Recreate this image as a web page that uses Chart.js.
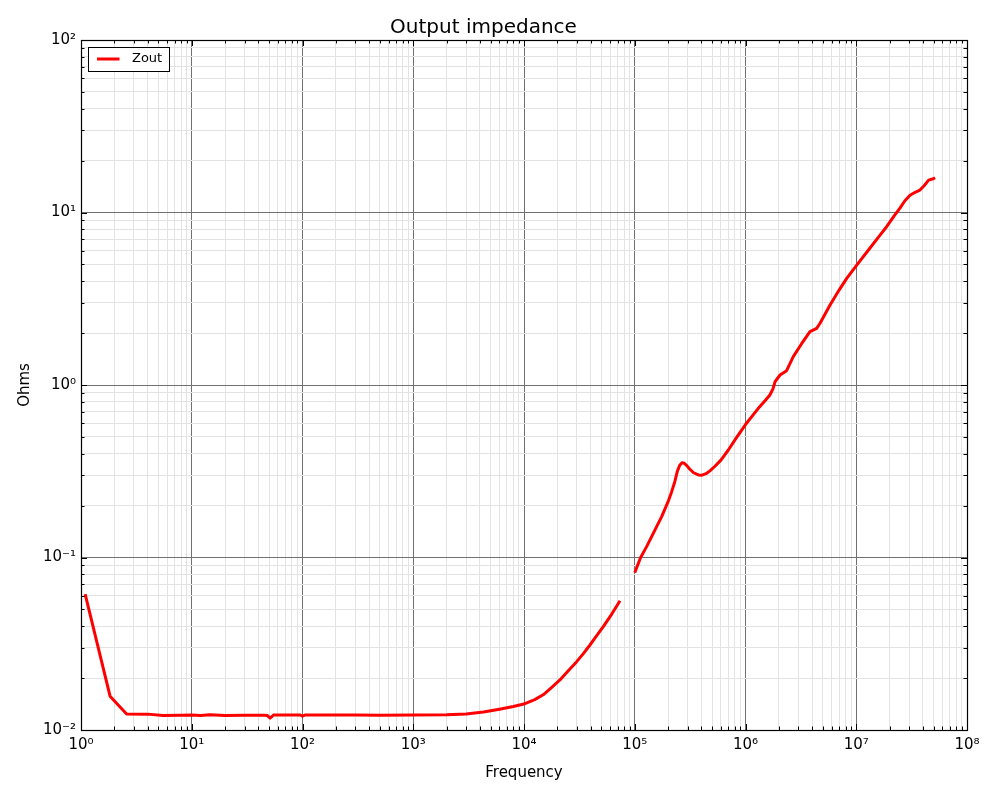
<!DOCTYPE html>
<html>
<head>
<meta charset="utf-8">
<script src="https://cdn.jsdelivr.net/npm/chart.js@4/dist/chart.umd.min.js"></script>
<style>
html,body{margin:0;padding:0;background:#fff;}
#wrap{width:1000px;height:800px;}
</style>
</head>
<body>
<div id="wrap"><canvas id="c" width="1000" height="800"></canvas></div>
<script>
const seriesLabel = "Zout";
const frequency = [1.09, 1.83, 2.58, 4.0, 5.5, 8, 10, 12, 14.5, 20, 30, 45, 48, 51, 55, 70, 95, 100, 105, 150, 300, 500, 1000, 2000, 3000, 4300, 6000, 8000, 10200, 12500, 14900, 17500, 21100, 25000, 29900, 34500, 39400, 45000, 52000, 62000, 73600, 87000, 100000, 113000, 128000, 152000, 175000, 200000, 215000, 230000, 242000, 255000, 267000, 280000, 295000, 313000, 340000, 375000, 405000, 440000, 480000, 530000, 600000, 700000, 820000, 1.0e6, 1.3e6, 1.5e6, 1.66e6, 1.77e6, 1.85e6, 2.05e6, 2.35e6, 2.7e6, 3.2e6, 3.82e6, 4.39e6, 4.71e6, 5.8e6, 7.0e6, 8.2e6, 1.01e7, 1.3e7, 1.6e7, 1.88e7, 2.2e7, 2.48e7, 2.75e7, 3.06e7, 3.4e7, 3.76e7, 4.1e7, 4.5e7, 4.97e7, 5.15e7];
const zout = [0.0614, 0.0157, 0.01238, 0.01236, 0.01215, 0.01218, 0.01222, 0.01215, 0.01225, 0.01215, 0.01218, 0.01218, 0.01215, 0.01172, 0.01222, 0.0122, 0.01222, 0.01205, 0.0122, 0.0122, 0.0122, 0.01218, 0.0122, 0.01225, 0.01238, 0.0127, 0.0132, 0.0137, 0.0142, 0.0150, 0.0160, 0.0175, 0.0195, 0.0220, 0.0249, 0.0278, 0.0311, 0.0350, 0.0397, 0.047, 0.0562, null, 0.0817, 0.100, 0.1156, 0.144, 0.1725, 0.2107, 0.240, 0.275, 0.315, 0.343, 0.354, 0.352, 0.341, 0.326, 0.310, 0.301, 0.300, 0.306, 0.319, 0.338, 0.367, 0.42, 0.49, 0.59, 0.73, 0.81, 0.875, 0.95, 1.045, 1.143, 1.21, 1.46, 1.73, 2.04, 2.13, 2.28, 2.91, 3.55, 4.15, 4.96, 6.1, 7.25, 8.27, 9.55, 10.6, 11.7, 12.6, 13.1, 13.5, 14.3, 15.4, 15.7, 15.9];
const xTickValues = [];
for (let e = 0; e < 8; e++) for (let m = 1; m < 10; m++) xTickValues.push(m * Math.pow(10, e));
xTickValues.push(1e8);
const yTickValues = [];
for (let e = -2; e < 2; e++) for (let m = 1; m < 10; m++) yTickValues.push(+(m * Math.pow(10, e)).toPrecision(6));
yTickValues.push(100);
const supers = {'-':'⁻','0':'⁰','1':'¹','2':'²','3':'³','4':'⁴','5':'⁵','6':'⁶','7':'⁷','8':'⁸','9':'⁹'};

function isDecade(v){ const l = Math.log10(v); return Math.abs(l - Math.round(l)) < 1e-9; }
function decadeLabel(v){
  if (!isDecade(v)) return '';
  const e = String(Math.round(Math.log10(v)));
  return '10' + e.split('').map(ch => supers[ch]).join('');
}

const MAJOR_GRID = '#707070';
const MINOR_GRID = '#e3e3e3';

const framePlugin = {
  id: 'frame',
  afterDatasetsDraw(chart) {
    const ctx = chart.ctx, a = chart.chartArea;
    const xs = chart.scales.x, ys = chart.scales.y;
    ctx.save();
    ctx.strokeStyle = '#000';
    ctx.lineWidth = 1;
    ctx.beginPath();
    xTickValues.forEach(v => {
      const px = Math.round(xs.getPixelForValue(v)) + 0.5;
      const len = isDecade(v) ? 6 : 3.5;
      ctx.moveTo(px, a.bottom); ctx.lineTo(px, a.bottom - len);
      ctx.moveTo(px, a.top); ctx.lineTo(px, a.top + len);
    });
    yTickValues.forEach(v => {
      const py = Math.round(ys.getPixelForValue(v)) + 0.5;
      const len = isDecade(v) ? 6 : 3.5;
      ctx.moveTo(a.left, py); ctx.lineTo(a.left + len, py);
      ctx.moveTo(a.right, py); ctx.lineTo(a.right - len, py);
    });
    ctx.stroke();
    ctx.lineWidth = 1.2;
    ctx.strokeRect(Math.round(a.left) + 0.5, Math.round(a.top) + 0.5, Math.round(a.right - a.left), Math.round(a.bottom - a.top));
    // legend box
    const ds = chart.data.datasets[0];
    const lx = a.left + 7.5, ly = a.top + 7.5, lw = 81, lh = 24;
    ctx.fillStyle = '#fff';
    ctx.fillRect(lx, ly, lw, lh);
    ctx.lineWidth = 1;
    ctx.strokeStyle = '#000';
    ctx.strokeRect(lx, ly, lw, lh);
    ctx.strokeStyle = ds.borderColor;
    ctx.lineWidth = 3;
    ctx.beginPath();
    ctx.moveTo(lx + 8.5, ly + 11.5); ctx.lineTo(lx + 31, ly + 11.5);
    ctx.stroke();
    ctx.fillStyle = '#000';
    ctx.font = '13px "DejaVu Sans"';
    ctx.textBaseline = 'middle';
    ctx.textAlign = 'left';
    ctx.fillText(ds.label, lx + 43.5, ly + 11.5);
    ctx.restore();
  }
};

const points = frequency.map((f, i) => ({x: f, y: zout[i]}));

new Chart(document.getElementById('c'), {
  type: 'line',
  data: {
    datasets: [{
      label: seriesLabel,
      data: points,
      borderColor: '#ff0000',
      backgroundColor: '#ff0000',
      borderWidth: 3,
      borderJoinStyle: 'round',
      borderCapStyle: 'butt',
      pointRadius: 0,
      tension: 0,
      spanGaps: false,
      fill: false
    }]
  },
  options: {
    responsive: false,
    animation: false,
    devicePixelRatio: 1,
    layout: { padding: { left: 0, right: 33, top: 0, bottom: 0 } },
    plugins: {
      legend: { display: false },
      tooltip: { enabled: false },
      title: {
        display: true,
        text: 'Output impedance',
        color: '#000',
        font: { family: 'DejaVu Sans', size: 20, weight: 'normal' },
        padding: { top: 16, bottom: 0 }
      }
    },
    scales: {
      x: {
        type: 'logarithmic',
        min: 1, max: 1e8,
        afterBuildTicks: s => { s.ticks = xTickValues.map(v => ({value: v, major: isDecade(v)})); },
        afterFit: s => { s.height = 70; },
        ticks: {
          autoSkip: false, maxRotation: 0, minRotation: 0,
          padding: 6, color: '#000',
          font: { family: 'DejaVu Sans', size: 15 },
          callback: v => decadeLabel(v)
        },
        grid: {
          drawTicks: false,
          color: c => (c.tick && isDecade(c.tick.value)) ? MAJOR_GRID : MINOR_GRID,
          lineWidth: 1
        },
        border: { display: false },
        title: {
          display: true, text: 'Frequency', color: '#000',
          font: { family: 'DejaVu Sans', size: 15 },
          padding: { top: 0, bottom: 18 }
        }
      },
      y: {
        type: 'logarithmic',
        min: 0.01, max: 100,
        afterBuildTicks: s => { s.ticks = yTickValues.map(v => ({value: v, major: isDecade(v)})); },
        afterFit: s => { s.width = 81; },
        ticks: {
          autoSkip: false, padding: 5, color: '#000',
          font: { family: 'DejaVu Sans', size: 15 },
          callback: v => decadeLabel(v)
        },
        grid: {
          drawTicks: false,
          color: c => (c.tick && isDecade(c.tick.value)) ? MAJOR_GRID : MINOR_GRID,
          lineWidth: 1
        },
        border: { display: false },
        title: {
          display: true, text: 'Ohms', color: '#000',
          font: { family: 'DejaVu Sans', size: 15 },
          padding: { top: 16, bottom: 0 }
        }
      }
    }
  },
  plugins: [framePlugin]
});
</script>
</body>
</html>
